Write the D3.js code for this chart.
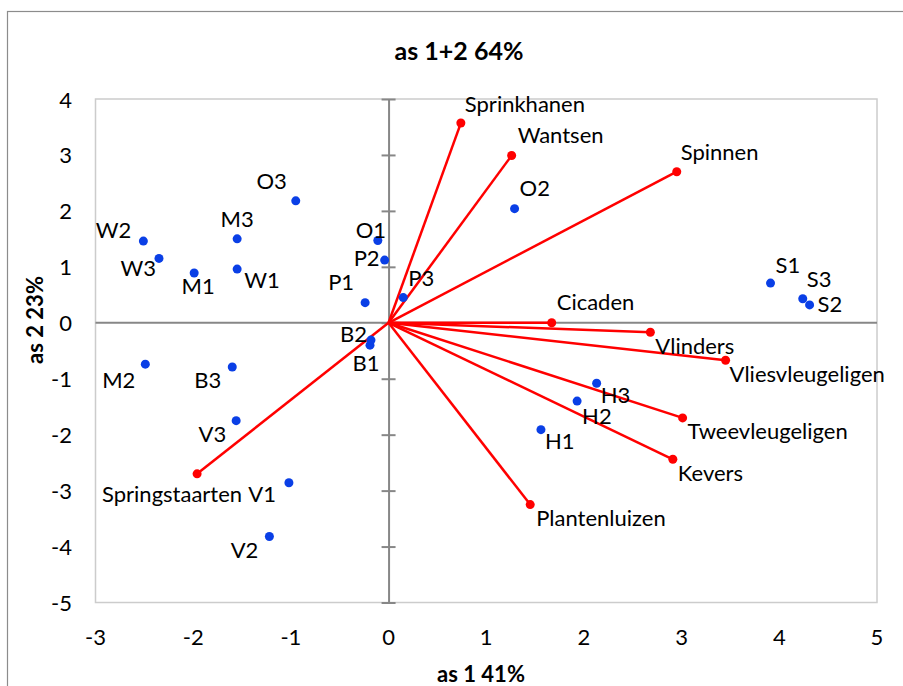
<!DOCTYPE html>
<html>
<head>
<meta charset="utf-8">
<script src="https://cdn.jsdelivr.net/npm/d3@7"></script>
<style>
  html, body { margin: 0; padding: 0; background: #fff; }
  svg { display: block; font-family: Lato, "Open Sans", sans-serif; }
</style>
</head>
<body>
<svg id="chart" width="903" height="686"></svg>
<script>
// Biplot: sample scores (blue) and variable vectors (red) on axes 1 and 2
const sampleNames = ["O1","O2","O3","P1","P2","P3","B1","B2","B3","M1","M2","M3",
                     "W1","W2","W3","V1","V2","V3","H1","H2","H3","S1","S2","S3"];
const sampleX = [-0.11, 1.29, -0.95, -0.24, -0.04, 0.15, -0.19, -0.18, -1.60, -1.99, -2.49, -1.55,
                 -1.55, -2.51, -2.35, -1.02, -1.22, -1.56, 1.56, 1.93, 2.13, 3.91, 4.31, 4.24];
const sampleY = [1.47, 2.04, 2.18, 0.36, 1.12, 0.45, -0.40, -0.31, -0.79, 0.89, -0.74, 1.50,
                 0.96, 1.46, 1.15, -2.86, -3.82, -1.75, -1.91, -1.40, -1.08, 0.71, 0.32, 0.43];

const varNames = ["Sprinkhanen","Wantsen","Spinnen","Cicaden","Vlinders","Vliesvleugeligen",
                  "Tweevleugeligen","Kevers","Plantenluizen","Springstaarten"];
const varX = [0.74, 1.26, 2.95, 1.67, 2.68, 3.45, 3.01, 2.91, 1.45, -1.96];
const varY = [3.57, 2.99, 2.70, 0.00, -0.17, -0.67, -1.70, -2.44, -3.25, -2.70];

const xTicks = [-3, -2, -1, 0, 1, 2, 3, 4, 5];
const yTicks = [-5, -4, -3, -2, -1, 0, 1, 2, 3, 4];

const titleText = "as 1+2 64%";
const xTitle = "as 1 41%";
const yTitle = "as 2 23%";

// label placement per point: [anchor, dx, dy]
const labelPlace = {
  Sprinkhanen: ["start", 4, -20], Wantsen: ["start", 6, -21], Spinnen: ["start", 4, -20],
  Cicaden: ["start", 5, -21], Vlinders: ["start", 5, 13], Vliesvleugeligen: ["start", 4, 13],
  Tweevleugeligen: ["start", 5, 13], Kevers: ["start", 5, 13], Plantenluizen: ["start", 6, 13],
  Springstaarten: ["end", 45, 20],
  O1: ["middle", -7, -11], O2: ["start", 5, -21], O3: ["end", -9, -20],
  P1: ["end", -11, -21], P2: ["end", -5, -3], P3: ["start", 5, -20],
  B1: ["middle", -4, 17], B2: ["end", -4, -7], B3: ["end", -11, 13],
  M1: ["middle", 4, 13], M2: ["end", -10, 15], M3: ["middle", 0, -20],
  W1: ["start", 7, 10], W2: ["end", -12, -12], W3: ["end", -3, 9],
  V1: ["end", -13, 11], V2: ["end", -11, 13], V3: ["end", -10, 13],
  H1: ["start", 4, 11], H2: ["start", 5, 14], H3: ["start", 4, 11],
  S1: ["start", 5, -19], S2: ["start", 8, -1], S3: ["start", 4, -20]
};

const svg = d3.select("#chart");
const plot = { left: 95.5, right: 877, top: 99, bottom: 602.5 };

const x = d3.scaleLinear().domain([-3, 5]).range([plot.left, plot.right]);
const y = d3.scaleLinear().domain([-5, 4]).range([plot.bottom, plot.top]);

// outer chart frame
svg.append("rect")
  .attr("x", 7.5).attr("y", 11.5).attr("width", 1000).attr("height", 1000)
  .attr("fill", "#fff").attr("stroke", "#8c8c8c").attr("stroke-width", 1.2);

// plot area border
svg.append("rect")
  .attr("x", plot.left).attr("y", plot.top)
  .attr("width", plot.right - plot.left).attr("height", plot.bottom - plot.top)
  .attr("fill", "none").attr("stroke", "#cccccc").attr("stroke-width", 1.5);

// tick labels
svg.append("g").selectAll("text").data(yTicks).join("text")
  .attr("x", 72).attr("y", d => y(d))
  .attr("text-anchor", "end").attr("dominant-baseline", "central")
  .attr("font-size", 22).attr("fill", "#000")
  .text(d => d);

svg.append("g").selectAll("text").data(xTicks).join("text")
  .attr("x", d => x(d)).attr("y", 636)
  .attr("text-anchor", "middle").attr("dominant-baseline", "central")
  .attr("font-size", 22).attr("fill", "#000")
  .text(d => d);

// horizontal axis through y = 0
svg.append("line")
  .attr("x1", x(-3)).attr("x2", x(5)).attr("y1", y(0)).attr("y2", y(0))
  .attr("stroke", "#878787").attr("stroke-width", 2);

// vertical axis through x = 0 with cross tick marks
const vAxis = d3.axisLeft(y).tickValues(yTicks).tickSizeInner(0).tickSizeOuter(0).tickFormat("");
const va = svg.append("g").attr("transform", `translate(${x(0)},0)`).call(vAxis);
va.select(".domain").attr("stroke", "#878787").attr("stroke-width", 2);
va.selectAll(".tick").append("line")
  .attr("x1", -7).attr("x2", 7).attr("stroke", "#878787").attr("stroke-width", 2);

// variable vectors
const vars = varNames.map((n, i) => ({ name: n, x: varX[i], y: varY[i] }));
svg.append("g").selectAll("line").data(vars).join("line")
  .attr("x1", x(0)).attr("y1", y(0))
  .attr("x2", d => x(d.x)).attr("y2", d => y(d.y))
  .attr("stroke", "#ff0000").attr("stroke-width", 2.5);
svg.append("g").selectAll("circle").data(vars).join("circle")
  .attr("cx", d => x(d.x)).attr("cy", d => y(d.y)).attr("r", 4.5)
  .attr("fill", "#ff0000");

// sample points
const samples = sampleNames.map((n, i) => ({ name: n, x: sampleX[i], y: sampleY[i] }));
svg.append("g").selectAll("circle").data(samples).join("circle")
  .attr("cx", d => x(d.x)).attr("cy", d => y(d.y)).attr("r", 4.5)
  .attr("fill", "#0a3fe6");

// labels
svg.append("g").selectAll("text").data(samples.concat(vars)).join("text")
  .attr("x", d => x(d.x) + labelPlace[d.name][1])
  .attr("y", d => y(d.y) + labelPlace[d.name][2])
  .attr("text-anchor", d => labelPlace[d.name][0])
  .attr("dominant-baseline", "central")
  .attr("font-size", 22).attr("fill", "#000")
  .text(d => d.name);

// titles
svg.append("text").attr("x", 459).attr("y", 50)
  .attr("text-anchor", "middle").attr("dominant-baseline", "central")
  .attr("font-size", 25).attr("font-weight", "bold").text(titleText);
svg.append("text").attr("x", 481).attr("y", 673)
  .attr("text-anchor", "middle").attr("dominant-baseline", "central")
  .attr("font-size", 22).attr("font-weight", "bold").text(xTitle);
svg.append("text").attr("transform", "translate(34,320) rotate(-90)")
  .attr("text-anchor", "middle").attr("dominant-baseline", "central")
  .attr("font-size", 22).attr("font-weight", "bold").text(yTitle);
</script>
</body>
</html>
